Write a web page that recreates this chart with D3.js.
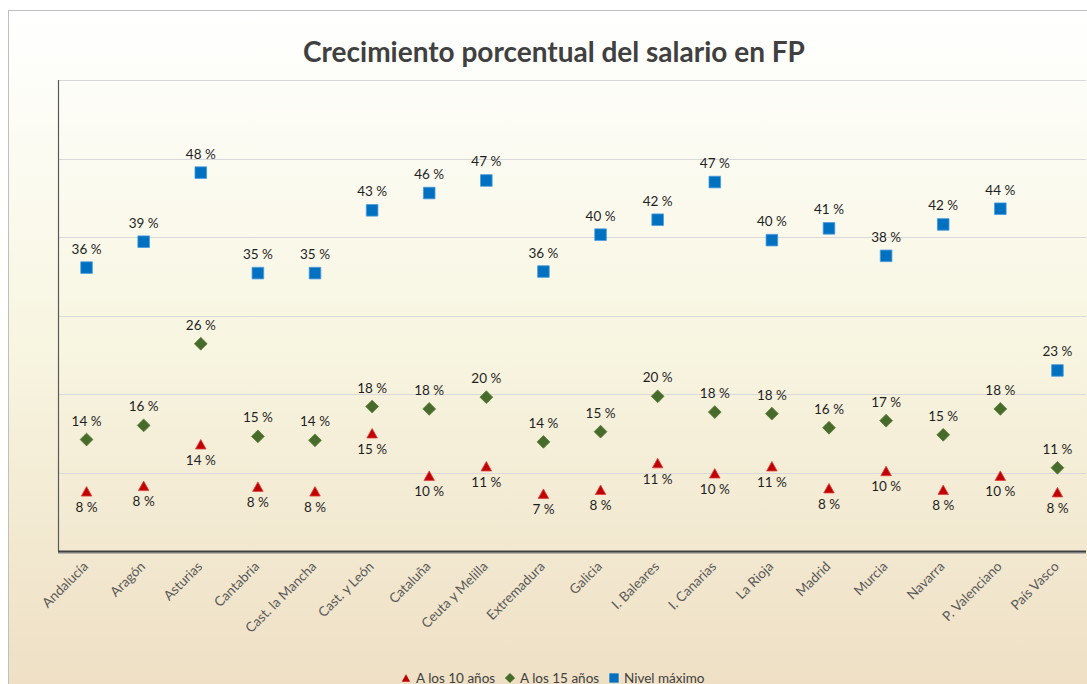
<!DOCTYPE html>
<html><head><meta charset="utf-8">
<script src="https://cdn.jsdelivr.net/npm/d3@7"></script>
<style>body{margin:0;background:#fff}svg{display:block}</style>
</head><body><svg id="c" width="1087" height="684"></svg>
<script>
const categories = ["Andalucía","Aragón","Asturias","Cantabria","Cast. la Mancha","Cast. y León","Cataluña","Ceuta y Melilla","Extremadura","Galicia","I. Baleares","I. Canarias","La Rioja","Madrid","Murcia","Navarra","P. Valenciano","País Vasco"];
const tenYears = [7.6, 8.3, 13.6, 8.2, 7.6, 15.0, 9.6, 10.8, 7.3, 7.8, 11.2, 9.9, 10.8, 8.0, 10.2, 7.8, 9.6, 7.5];
const fifteenYears = [14.2, 16.0, 26.4, 14.6, 14.1, 18.4, 18.1, 19.6, 13.9, 15.2, 19.7, 17.7, 17.5, 15.7, 16.6, 14.8, 18.1, 10.6];
const maxLevel = [36.1, 39.4, 48.2, 35.4, 35.4, 43.4, 45.6, 47.2, 35.6, 40.3, 42.2, 47.0, 39.6, 41.1, 37.6, 41.6, 43.6, 23.0];
const yTicks = [0, 10, 20, 30, 40, 50, 60];
const seriesNames = ["A los 10 años", "A los 15 años", "Nivel máximo"];
const title = "Crecimiento porcentual del salario en FP";

const FONT = "Lato, 'Open Sans', sans-serif";
const svg = d3.select("#c");

// background gradient
const defs = svg.append("defs");
const grad = defs.append("linearGradient").attr("id", "bg").attr("x1", 0).attr("y1", 0).attr("x2", 0).attr("y2", 1);
grad.append("stop").attr("offset", "0%").attr("stop-color", "#ffffff");
grad.append("stop").attr("offset", "45%").attr("stop-color", "#f8f6e2");
grad.append("stop").attr("offset", "100%").attr("stop-color", "#eedec3");
svg.append("rect").attr("x", 8.5).attr("y", 10.5).attr("width", 1100).attr("height", 700)
  .attr("fill", "url(#bg)").attr("stroke", "#bfbfbf").attr("stroke-width", 1);

const plot = {left: 58, right: 1086, top: 80, bottom: 551};
const x = d3.scaleBand().domain(categories).range([plot.left, plot.right]).padding(0);
const y = d3.scaleLinear().domain([0, 60]).range([plot.bottom, plot.top]);

// gridlines
svg.append("g").selectAll("line").data(yTicks.filter(d => d > 0)).join("line")
  .attr("x1", plot.left).attr("x2", plot.right)
  .attr("y1", d => Math.round(y(d)) + 0.5).attr("y2", d => Math.round(y(d)) + 0.5)
  .attr("stroke", "#d9d9d9").attr("stroke-width", 1.2);

// axes lines
svg.append("line").attr("x1", plot.left + 0.5).attr("x2", plot.left + 0.5)
  .attr("y1", plot.top).attr("y2", plot.bottom).attr("stroke", "#595959").attr("stroke-width", 1.2);
svg.append("line").attr("x1", plot.left).attr("x2", plot.right)
  .attr("y1", plot.bottom + 2).attr("y2", plot.bottom + 2).attr("stroke", "#a6a6a6").attr("stroke-width", 1.5);
svg.append("line").attr("x1", plot.left).attr("x2", plot.right)
  .attr("y1", plot.bottom + 0.5).attr("y2", plot.bottom + 0.5).attr("stroke", "#404040").attr("stroke-width", 1.8);

// x axis labels
const xAxis = d3.axisBottom(x).tickSize(0).tickPadding(0);
const gx = svg.append("g").attr("transform", `translate(0,${plot.bottom})`).call(xAxis);
gx.select(".domain").remove();
gx.selectAll(".tick text")
  .attr("font-family", FONT).attr("font-size", 13.5).attr("fill", "#595959")
  .attr("text-anchor", "end").attr("dy", "0.35em").attr("y", 0)
  .attr("transform", "translate(-1,13) rotate(-45)");

// marker types
const triType = {draw(ctx, size) { const w = 10.5, h = 9.5; ctx.moveTo(0, -h/2); ctx.lineTo(w/2, h/2); ctx.lineTo(-w/2, h/2); ctx.closePath(); }};
const diaType = {draw(ctx, size) { const r = 6.4; ctx.moveTo(0, -r); ctx.lineTo(r, 0); ctx.lineTo(0, r); ctx.lineTo(-r, 0); ctx.closePath(); }};
const sqType = {draw(ctx, size) { const r = 5.8; ctx.rect(-r, -r, 2*r, 2*r); }};

const series = [
  {name: seriesNames[0], values: tenYears, type: triType, fill: "#c00000", stroke: "#e04040", labelDy: 20.5},
  {name: seriesNames[1], values: fifteenYears, type: diaType, fill: "#476b2a", stroke: "#5a7d3a", labelDy: -14},
  {name: seriesNames[2], values: maxLevel, type: sqType, fill: "#0070c0", stroke: "#4a9be0", labelDy: -14}
];

series.forEach(s => {
  const g = svg.append("g");
  const data = categories.map((c, i) => ({c, v: s.values[i]}));
  g.selectAll("path").data(data).join("path")
    .attr("d", d3.symbol().type(s.type).size(100))
    .attr("transform", d => `translate(${x(d.c) + x.bandwidth()/2},${y(d.v)})`)
    .attr("fill", s.fill).attr("stroke", s.stroke).attr("stroke-width", 0.8);
  g.selectAll("text").data(data).join("text")
    .attr("x", d => x(d.c) + x.bandwidth()/2)
    .attr("y", d => y(d.v) + s.labelDy)
    .attr("text-anchor", "middle")
    .attr("font-family", FONT).attr("font-size", 13.5).attr("fill", "#1f1f1f")
    .text(d => `${Math.round(d.v)} %`);
});

// title
const t = svg.append("text").attr("x", 554).attr("y", 62).attr("text-anchor", "middle")
  .attr("font-family", FONT).attr("font-weight", "bold").attr("font-size", 26).attr("fill", "#404040")
  .text(title);
const tw = t.node().getComputedTextLength();
t.attr("font-size", 26 * 502 / tw);

// legend
const legX = [406, 510, 614];
const lg = svg.append("g");
series.forEach((s, i) => {
  lg.append("path").attr("d", d3.symbol().type(s.type).size(100))
    .attr("transform", `translate(${legX[i]},678) scale(0.8)`)
    .attr("fill", s.fill);
  lg.append("text").attr("x", legX[i] + 10).attr("y", 682.5)
    .attr("font-family", FONT).attr("font-size", 13.5).attr("fill", "#404040")
    .text(s.name);
});
</script>
</body></html>
